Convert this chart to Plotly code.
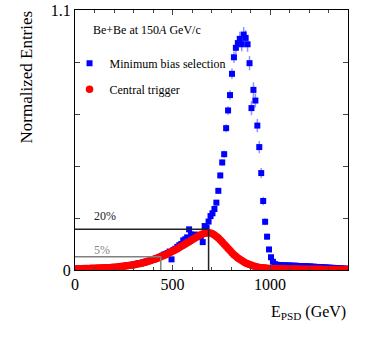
import plotly.graph_objects as go

# bin centres (GeV), 10 GeV bins
e_psd = [5 + 10 * i for i in range(140)]

min_bias = [
    0.002, 0.002, 0.003, 0.003, 0.003, 0.004, 0.004, 0.004, 0.005, 0.005,
    0.005, 0.006, 0.006, 0.007, 0.007, 0.008, 0.008, 0.009, 0.010, 0.010,
    0.011, 0.012, 0.013, 0.014, 0.015, 0.016, 0.018, 0.019, 0.021, 0.022,
    0.024, 0.026, 0.028, 0.027, 0.031, 0.033, 0.036, 0.038, 0.040, 0.043,
    0.045, 0.049, 0.052, 0.056, 0.060, 0.065, 0.068, 0.072, 0.078, 0.045,
    0.085, 0.090, 0.098, 0.105, 0.110, 0.125, 0.130, 0.138, 0.172, 0.150,
    0.145, 0.150, 0.140, 0.148, 0.140, 0.118, 0.186, 0.180, 0.205, 0.228,
    0.240, 0.258, 0.285, 0.335, 0.400, 0.455, 0.490, 0.600, 0.675, 0.740,
    0.830, 0.900, 0.940, 0.960, 0.978, 0.955, 0.996, 0.982, 0.955, 0.875,
    0.685, 0.762, 0.717, 0.611, 0.520, 0.410, 0.292, 0.204, 0.141, 0.087,
    0.054, 0.035, 0.025, 0.022, 0.021, 0.020, 0.020, 0.020, 0.019, 0.019,
    0.019, 0.018, 0.018, 0.018, 0.017, 0.017, 0.017, 0.016, 0.016, 0.015,
    0.015, 0.014, 0.014, 0.013, 0.013, 0.012, 0.012, 0.011, 0.011, 0.010,
    0.010, 0.009, 0.009, 0.008, 0.008, 0.007, 0.007, 0.006, 0.006, 0.005,
]
min_bias_err = [
    0.001, 0.001, 0.001, 0.001, 0.001, 0.001, 0.001, 0.001, 0.001, 0.001,
    0.002, 0.002, 0.002, 0.002, 0.002, 0.002, 0.002, 0.002, 0.002, 0.002,
    0.003, 0.003, 0.003, 0.003, 0.003, 0.003, 0.003, 0.003, 0.003, 0.003,
    0.004, 0.004, 0.004, 0.004, 0.004, 0.004, 0.004, 0.004, 0.004, 0.004,
    0.005, 0.005, 0.005, 0.005, 0.005, 0.005, 0.005, 0.005, 0.005, 0.005,
    0.006, 0.006, 0.006, 0.006, 0.006, 0.007, 0.007, 0.007, 0.008, 0.008,
    0.008, 0.008, 0.008, 0.008, 0.008, 0.008, 0.009, 0.009, 0.009, 0.010,
    0.010, 0.010, 0.011, 0.012, 0.013, 0.014, 0.015, 0.017, 0.018, 0.020,
    0.022, 0.024, 0.026, 0.028, 0.030, 0.030, 0.032, 0.032, 0.032, 0.030,
    0.030, 0.032, 0.030, 0.028, 0.026, 0.022, 0.018, 0.015, 0.012, 0.010,
    0.008, 0.006, 0.005, 0.005, 0.004, 0.004, 0.004, 0.004, 0.004, 0.004,
    0.004, 0.004, 0.004, 0.004, 0.004, 0.004, 0.004, 0.004, 0.004, 0.004,
    0.003, 0.003, 0.003, 0.003, 0.003, 0.003, 0.003, 0.003, 0.003, 0.003,
    0.003, 0.003, 0.003, 0.003, 0.003, 0.003, 0.003, 0.003, 0.003, 0.003,
]
central = [
    0.005, 0.005, 0.005, 0.005, 0.006, 0.006, 0.006, 0.006, 0.007, 0.007,
    0.007, 0.008, 0.008, 0.008, 0.009, 0.009, 0.010, 0.010, 0.011, 0.012,
    0.012, 0.013, 0.014, 0.015, 0.016, 0.017, 0.018, 0.019, 0.020, 0.021,
    0.022, 0.024, 0.026, 0.028, 0.030, 0.032, 0.034, 0.037, 0.039, 0.042,
    0.045, 0.048, 0.051, 0.054, 0.058, 0.061, 0.065, 0.069, 0.073, 0.077,
    0.081, 0.086, 0.090, 0.095, 0.100, 0.105, 0.110, 0.115, 0.120, 0.125,
    0.130, 0.135, 0.140, 0.145, 0.149, 0.152, 0.155, 0.157, 0.158, 0.157,
    0.153, 0.148, 0.142, 0.135, 0.127, 0.118, 0.109, 0.100, 0.091, 0.082,
    0.073, 0.065, 0.058, 0.051, 0.045, 0.040, 0.035, 0.030, 0.026, 0.023,
    0.020, 0.017, 0.015, 0.013, 0.011, 0.010, 0.009, 0.008, 0.007, 0.006,
    0.006, 0.006, 0.005, 0.005, 0.005, 0.005, 0.005, 0.004, 0.004, 0.004,
    0.004, 0.004, 0.004, 0.004, 0.004, 0.003, 0.003, 0.003, 0.003, 0.003,
    0.003, 0.003, 0.003, 0.003, 0.003, 0.003, 0.003, 0.002, 0.002, 0.002,
    0.002, 0.002, 0.002, 0.002, 0.002, 0.002, 0.002, 0.002, 0.002, 0.002,
]

# centrality cuts: [E_PSD cut, level]
cut_20 = [685, 0.172]
cut_5 = [440, 0.056]

y_ticks = [0, 1.1]
y_ticktext = ["0", "1.1"]
y_minor = [0.22, 0.44, 0.66, 0.88]
x_ticks = [0, 500, 1000]

FONT = "Liberation Serif, Times New Roman, serif"

fig = go.Figure()
fig.add_trace(go.Scatter(
    x=e_psd, y=min_bias, mode="markers", name="Minimum bias selection",
    marker=dict(symbol="square", size=6, color="#0000ff"),
    error_y=dict(type="data", array=min_bias_err, color="rgba(60,60,255,0.55)",
                 thickness=1.5, width=0),
    showlegend=True, legend="legend"))
fig.add_trace(go.Scatter(
    x=e_psd, y=central, mode="markers", name="Central trigger",
    marker=dict(symbol="circle", size=7.5, color="#ff0000"),
    showlegend=True, legend="legend2"))

# 20% and 5% cut lines
fig.add_shape(type="line", x0=0, x1=cut_20[0], y0=cut_20[1], y1=cut_20[1],
              line=dict(color="#222222", width=1.5))
fig.add_shape(type="line", x0=cut_20[0], x1=cut_20[0], y0=0, y1=cut_20[1],
              line=dict(color="#222222", width=1.5))
fig.add_shape(type="line", x0=0, x1=cut_5[0], y0=cut_5[1], y1=cut_5[1],
              line=dict(color="#808080", width=1.5))
fig.add_shape(type="line", x0=cut_5[0], x1=cut_5[0], y0=0, y1=cut_5[1],
              line=dict(color="#808080", width=1.5))

fig.add_annotation(text="20%", xref="paper", yref="paper", x=0.062, y=0.208,
                   xanchor="left", yanchor="middle", showarrow=False,
                   font=dict(family=FONT, size=12, color="#222222"))
fig.add_annotation(text="5%", xref="paper", yref="paper", x=0.062, y=0.077,
                   xanchor="left", yanchor="middle", showarrow=False,
                   font=dict(family=FONT, size=12, color="#888888"))
fig.add_annotation(text="Be+Be at 150<i>A</i> GeV/c", xref="paper", yref="paper",
                   x=0.058, y=0.923, xanchor="left", yanchor="middle", showarrow=False,
                   font=dict(family=FONT, size=12, color="black"))
fig.add_annotation(text="Normalized Entries", xref="paper", yref="paper",
                   x=-0.178, y=0.742, textangle=-90, xanchor="center", yanchor="middle",
                   showarrow=False, font=dict(family=FONT, size=17, color="black"))
fig.add_annotation(text="E<sub>PSD</sub> (GeV)", xref="paper", yref="paper",
                   x=1.0, y=-0.165, xanchor="right", yanchor="middle",
                   showarrow=False, font=dict(family=FONT, size=16, color="black"))

fig.update_layout(
    width=374, height=339,
    margin=dict(l=75, r=26, t=10, b=69, autoexpand=False),
    paper_bgcolor="white", plot_bgcolor="white",
    font=dict(family=FONT, size=14, color="black"),
    showlegend=True,
    legend=dict(x=-0.02, y=0.795, xanchor="left", yanchor="middle",
                bgcolor="rgba(0,0,0,0)", font=dict(family=FONT, size=12)),
    legend2=dict(x=-0.02, y=0.695, xanchor="left", yanchor="middle",
                 bgcolor="rgba(0,0,0,0)", font=dict(family=FONT, size=12)),
    xaxis=dict(range=[0, 1400], tickvals=x_ticks, ticks="inside", ticklen=5,
               showgrid=False, zeroline=False, showline=True, linecolor="black",
               linewidth=1, mirror="allticks", tickfont=dict(family=FONT, size=16),
               minor=dict(dtick=100, ticks="inside", ticklen=3, showgrid=False)),
    yaxis=dict(range=[0, 1.1], tickvals=y_ticks, ticktext=y_ticktext,
               ticks="inside", ticklen=5, showgrid=False, zeroline=False,
               showline=True, linecolor="black", linewidth=1, mirror="allticks",
               tickfont=dict(family=FONT, size=16),
               minor=dict(tickvals=y_minor, ticks="inside", ticklen=5,
                          showgrid=False)),
)

fig.write_html("out.html", config={"displayModeBar": False},
               post_script="document.body.style.margin='0';")
